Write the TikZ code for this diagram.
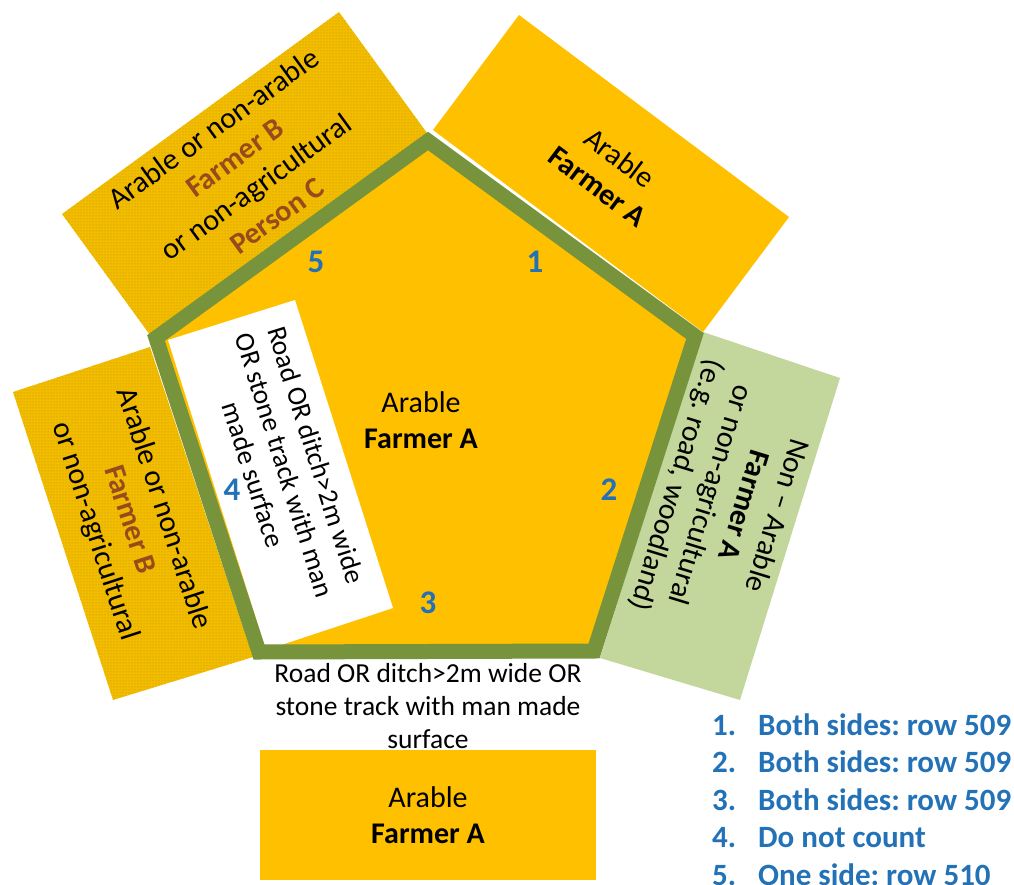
\documentclass[tikz,border=0pt]{standalone}
\usepackage{fontspec}
\setmainfont{Carlito}
\usetikzlibrary{patterns}
\definecolor{gold}{HTML}{FFC000}
\definecolor{goldtex}{HTML}{F2BC00}
\definecolor{dotc}{HTML}{C29400}
\definecolor{olive}{HTML}{77933C}
\definecolor{lgreen}{HTML}{C3D69B}
\definecolor{brownB}{HTML}{984A1E}
\definecolor{numblue}{HTML}{2371B6}
\frenchspacing
\begin{document}
\begin{tikzpicture}[x=1pt,y=-1pt,
  textured/.style={fill=goldtex, postaction={pattern=dots, pattern color=dotc}},
  big/.style={font=\fontsize{30}{36}\selectfont, align=center, inner sep=0pt},
  mid/.style={font=\fontsize{27.5}{33}\selectfont, align=center, inner sep=0pt},
  num/.style={font=\fontsize{33}{36}\selectfont\bfseries, text=numblue, inner sep=0pt},
  leg/.style={font=\fontsize{31}{36}\selectfont\bfseries, text=numblue, inner sep=0pt, anchor=base west}]
\useasboundingbox (0,0) rectangle (1014,885);
\coordinate (P1) at (428,141);
\coordinate (P2) at (695,336);
\coordinate (P3) at (594,651);
\coordinate (P4) at (259,652);
\coordinate (P5) at (156,338);
% surrounding fields
\path[textured] (62,214) -- (339,12) -- (427,133) -- (150,335) -- cycle;
\fill[gold] (433,130) -- (519,15) -- (789,217) -- (703,332) -- cycle;
\path[textured] (13,392) -- (150,347) -- (253,657) -- (113,700) -- cycle;
\fill[lgreen] (703,332) -- (840,378) -- (740,700) -- (600,658) -- cycle;
\fill[gold] (260,750) rectangle (596,880);
% main field
\fill[gold] (P1) -- (P2) -- (P3) -- (P4) -- (P5) -- cycle;
\fill[white] (168,340) -- (295,300) -- (393,608) -- (266,650) -- cycle;
\draw[olive, line width=15pt, line join=miter] (P1) -- (P2) -- (P3) -- (P4) -- (P5) -- cycle;
% texts
\node[big, rotate=36] (tl) at (245,172) {Arable or non-arable\\ \textcolor{brownB}{\bfseries Farmer B}\\ or non-agricultural\\ \textcolor{brownB}{\bfseries Person C}};
\node[big, rotate=-37] (tr) at (609,172) {Arable\\ \textbf{Farmer A}};
\node[big, rotate=-72] (lt) at (129,520) {Arable or non-arable\\ \textcolor{brownB}{\bfseries Farmer B}\\ or non-agricultural};
\node[mid, rotate=-72.5] (wt) at (285,465) {Road OR ditch>2m wide\\ OR stone track with man\\ made surface};
\node[big, rotate=-107, font=\fontsize{30}{35}\selectfont] (gt) at (726,500) {Non – Arable\\ \textbf{Farmer A}\\ or non-agricultural\\ (e.g. road, woodland)};
\node[big] (ct) at (421,420) {Arable\\ \textbf{Farmer A}};
\node[mid] (rd) at (428,706) {Road OR ditch>2m wide OR\\ stone track with man made\\ surface};
\node[big] (bt) at (428,815) {Arable\\ \textbf{Farmer A}};
% side numbers
\node[num] (n1) at (535,262) {1};
\node[num] (n2) at (609,490) {2};
\node[num] (n3) at (428,603) {3};
\node[num] (n4) at (232,490) {4};
\node[num] (n5) at (316,262) {5};
% legend
\node[leg] (l1n) at (712,735) {1.};
\node[leg] (l1t) at (758,735) {Both sides: row 509};
\node[leg] (l2n) at (712,772.5) {2.};
\node[leg] (l2t) at (758,772.5) {Both sides: row 509};
\node[leg] (l3n) at (712,810) {3.};
\node[leg] (l3t) at (758,810) {Both sides: row 509};
\node[leg] (l4n) at (712,847.5) {4.};
\node[leg] (l4t) at (758,847.5) {Do not count};
\node[leg] (l5n) at (712,885) {5.};
\node[leg] (l5t) at (758,885) {One side: row 510};
\end{tikzpicture}
\end{document}
